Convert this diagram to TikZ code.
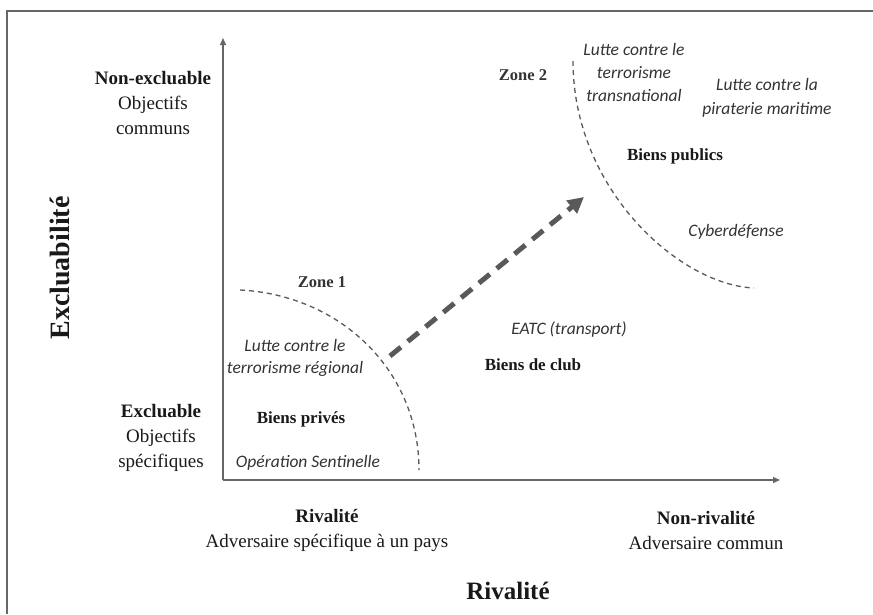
\documentclass[tikz,border=0pt]{standalone}
\usepackage{fontspec}
\setmainfont{Liberation Serif}
\newfontfamily\calib{Carlito}
\usetikzlibrary{arrows.meta}

\tikzset{
  serif/.style={align=center, inner sep=0pt, text=black!90,
    font=\fontsize{19}{25}\selectfont},
  zonelbl/.style={inner sep=0pt, text=black!80,
    font=\fontsize{16.5}{20}\selectfont\bfseries},
  goods/.style={inner sep=0pt, text=black!90,
    font=\fontsize{17}{20}\selectfont\bfseries},
  case/.style={align=center, inner sep=0pt, text=black!80,
    font=\fontsize{17.5}{23}\selectfont\calib\itshape},
  zoneline/.style={draw=black!65, line width=1.3pt, dash pattern=on 5pt off 4pt},
  axis/.style={draw=black!60, line width=1.3pt, -{Triangle[length=7pt,width=6pt]}}
}

\begin{document}
\begin{tikzpicture}[x=1pt, y=-1pt]
  \useasboundingbox (0,0) rectangle (873,614);
  \draw[black!60, line width=1.2pt] (7,614) -- (7,11) -- (873,11);

  % axes
  \coordinate (origin) at (223,480);
  \coordinate (ytop) at (223,38);
  \coordinate (xend) at (780,480);
  \draw[axis] (origin) -- (ytop);
  \draw[axis] (origin) -- (xend);

  % axis texts
  \node[serif, rotate=90, font=\fontsize{28}{30}\selectfont\bfseries] (ytitle) at (60,268) {Excluabilit\'e};
  \node[serif, font=\fontsize{25}{30}\selectfont\bfseries] (xtitle) at (508,591) {Rivalit\'e};
  \node[serif] (nonexcl) at (153,103) {\textbf{Non-excluable}\\Objectifs\\communs};
  \node[serif] (excl) at (161,438) {\textbf{Excluable}\\Objectifs\\sp\'ecifiques};
  \node[serif] (rival) at (327,530) {\textbf{Rivalit\'e}\\Adversaire sp\'ecifique \`a un pays};
  \node[serif] (nonrival) at (706,530) {\textbf{Non-rivalit\'e}\\Adversaire commun};

  % zone 1
  \coordinate (zAstart) at (240,290);
  \coordinate (zAend) at (419,470);
  \draw[zoneline] (zAstart) .. controls (340,295) and (419,370) .. (zAend);
  \node[zonelbl] (zoneA) at (322,282) {Zone 1};
  \node[case, font=\fontsize{17.5}{22}\selectfont\calib\itshape] (terrreg) at (295,358) {Lutte contre le\\terrorisme r\'egional};
  \node[goods] (prives) at (301,419) {Biens priv\'es};
  \node[case] (sentinelle) at (308,463) {Op\'eration Sentinelle};

  % zone 2
  \coordinate (zBstart) at (573,61);
  \coordinate (zBend) at (754,288);
  \draw[zoneline] (zBstart) .. controls (573,190) and (680,285) .. (zBend);
  \node[zonelbl] (zoneB) at (523,75) {Zone 2};
  \node[case] (terrtrans) at (634,72) {Lutte contre le\\terrorisme\\transnational};
  \node[case, font=\fontsize{17.5}{24}\selectfont\calib\itshape] (piraterie) at (767,98) {Lutte contre la\\piraterie maritime};
  \node[goods] (publics) at (675,156) {Biens publics};
  \node[case] (cyber) at (736,232) {Cyberd\'efense};

  % club goods
  \node[case] (eatc) at (569,330) {EATC (transport)};
  \node[goods] (club) at (533,365) {Biens de club};

  % shift
  \coordinate (shiftS) at (390,356);
  \coordinate (shiftE) at (584,197);
  \draw[black!65, line width=5pt, dash pattern=on 14pt off 9pt,
    -{Triangle[length=16pt,width=16pt]}] (shiftS) -- (shiftE);
\end{tikzpicture}
\end{document}
